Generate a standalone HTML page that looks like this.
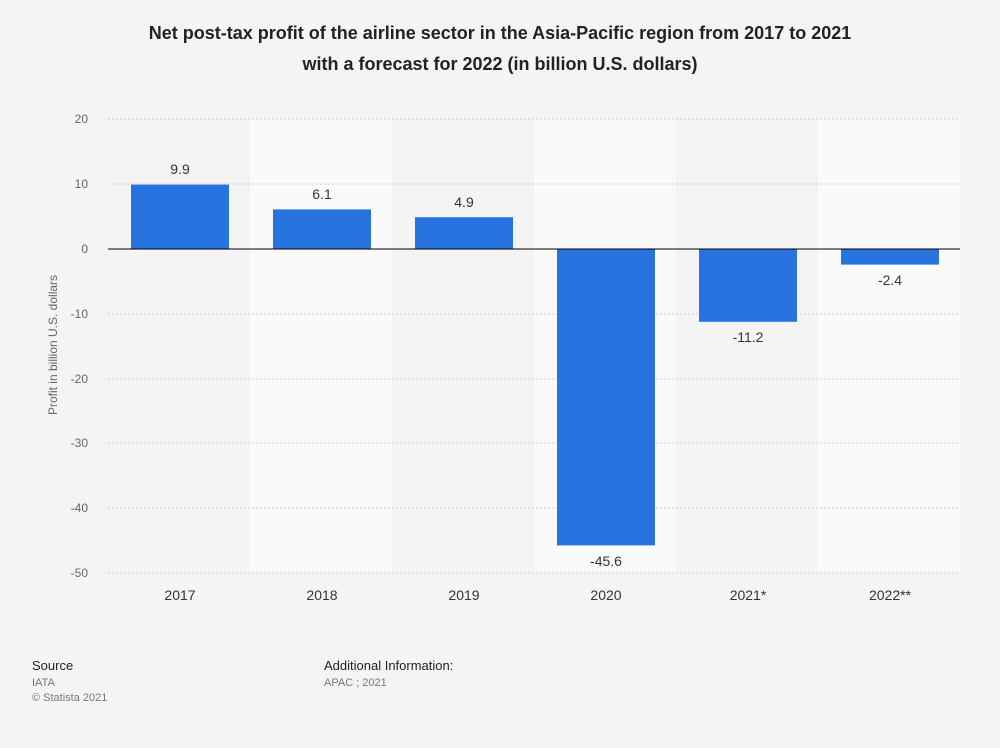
<!DOCTYPE html>
<html><head><meta charset="utf-8"><style>
body{margin:0;background:#f4f4f4;font-family:"Liberation Sans",Arial,sans-serif;}
</style></head><body>
<svg width="1000" height="743" xmlns="http://www.w3.org/2000/svg" font-family="Liberation Sans, Arial, sans-serif">
<rect width="1000" height="743" fill="#f4f4f4"/>
<text x="500" y="39" text-anchor="middle" font-size="18" font-weight="bold" fill="#222">Net post-tax profit of the airline sector in the Asia-Pacific region from 2017 to 2021</text>
<text x="500" y="70" text-anchor="middle" font-size="18" font-weight="bold" fill="#222">with a forecast for 2022 (in billion U.S. dollars)</text>
<rect x="250" y="119" width="142" height="454" fill="#fafafa"/>
<rect x="534" y="119" width="142" height="454" fill="#fafafa"/>
<rect x="818" y="119" width="142" height="454" fill="#fafafa"/>
<g stroke="#ccc" stroke-dasharray="2,2" stroke-width="1">
<line x1="108" x2="960" y1="119" y2="119"/><line x1="108" x2="960" y1="184" y2="184"/>
<line x1="108" x2="960" y1="314" y2="314"/><line x1="108" x2="960" y1="379" y2="379"/>
<line x1="108" x2="960" y1="443" y2="443"/><line x1="108" x2="960" y1="508" y2="508"/>
<line x1="108" x2="960" y1="573" y2="573"/>
</g>
<g font-size="12" fill="#666" text-anchor="end">
<text x="88" y="123">20</text><text x="88" y="188">10</text><text x="88" y="253">0</text>
<text x="88" y="318">-10</text><text x="88" y="383">-20</text><text x="88" y="447">-30</text>
<text x="88" y="512">-40</text><text x="88" y="577">-50</text>
</g>
<text transform="translate(57,345) rotate(-90)" text-anchor="middle" font-size="12" fill="#666">Profit in billion U.S. dollars</text>
<g fill="#2774e0">
<rect x="131" y="184.6" width="98" height="64.4"/>
<rect x="273" y="209.4" width="98" height="39.6"/>
<rect x="415" y="217.2" width="98" height="31.8"/>
<rect x="557" y="249" width="98" height="296.4"/>
<rect x="699" y="249" width="98" height="72.8"/>
<rect x="841" y="249" width="98" height="15.6"/>
</g>
<line x1="108" x2="960" y1="249" y2="249" stroke="#000" stroke-width="1"/>
<g font-size="14" fill="#333" text-anchor="middle">
<text x="180" y="174">9.9</text><text x="322" y="199">6.1</text><text x="464" y="207">4.9</text>
<text x="606" y="566">-45.6</text><text x="748" y="342">-11.2</text><text x="890" y="285">-2.4</text>
</g>
<g font-size="14" fill="#333" text-anchor="middle">
<text x="180" y="600">2017</text><text x="322" y="600">2018</text><text x="464" y="600">2019</text>
<text x="606" y="600">2020</text><text x="748" y="600">2021*</text><text x="890" y="600">2022**</text>
</g>
<text x="32" y="670" font-size="13" fill="#222">Source</text>
<text x="32" y="686" font-size="11" fill="#777">IATA</text>
<text x="32" y="701" font-size="11" fill="#777">© Statista 2021</text>
<text x="324" y="670" font-size="13" fill="#222">Additional Information:</text>
<text x="324" y="686" font-size="11" fill="#777">APAC ; 2021</text>
</svg>
</body></html>
